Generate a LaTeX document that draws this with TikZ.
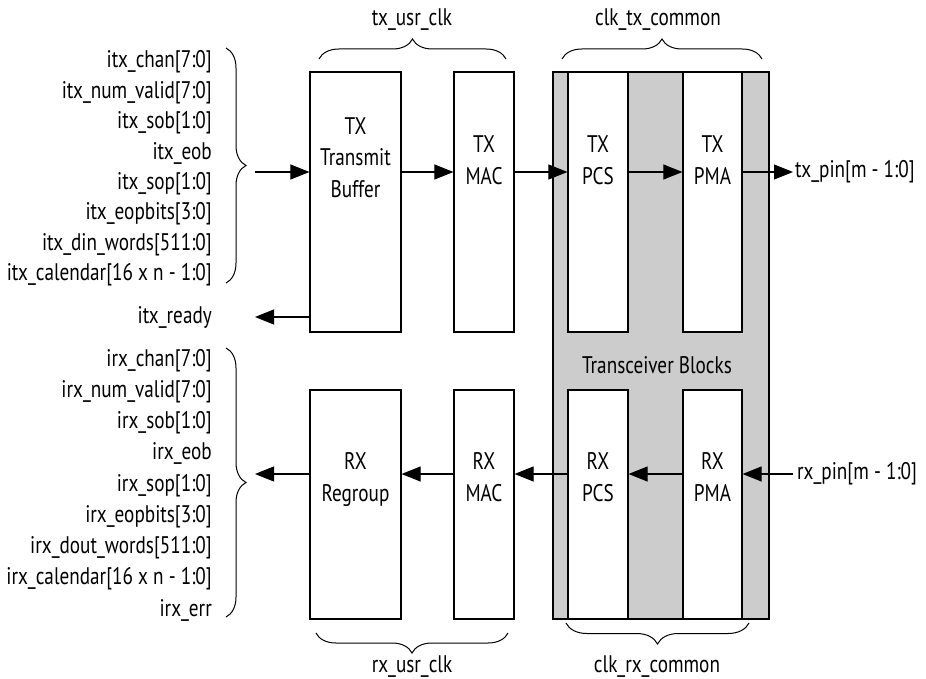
\documentclass[tikz,border=0pt]{standalone}
\usepackage{fontspec}
\setmainfont{PT Sans}[FakeStretch=0.8]
\usetikzlibrary{arrows.meta,decorations.pathreplacing}
\definecolor{tgray}{RGB}{204,204,204}
\begin{document}
\begin{tikzpicture}[x=1pt,y=-1pt,
  blk/.style={draw, fill=white, line width=1.2pt, inner sep=0pt, minimum width=#1},
  tall/.style={minimum height=260pt},
  short/.style={minimum height=229pt},
  txt/.style={inner sep=0pt, align=center, font=\fontsize{24}{31.5}\selectfont},
  lbl/.style={inner sep=0pt, font=\fontsize{24}{30}\selectfont},
  arr/.style={line width=1.1pt, -{Triangle[length=19pt,width=15pt]}},
  brc/.style={line width=1pt, decoration={brace, amplitude=#1}, decorate},
]
\useasboundingbox (0,0) rectangle (926,679);
% coordinates for rows
\coordinate (txrow) at (0,172);
\coordinate (rxrow) at (0,474);
\coordinate (readyrow) at (0,317);
% gray transceiver area
\node[draw, fill=tgray, line width=1.2pt, inner sep=0pt, minimum width=216pt, minimum height=547pt] (xcvr) at (661,345.5) {};
\node[lbl] (xcvrT) at (657,365) {Transceiver Blocks};
% TX blocks
\node[blk=91pt, tall] (buf) at (355.5,202) {};
\node[blk=60pt, tall] (txmac) at (484,202) {};
\node[blk=60pt, tall] (txpcs) at (598,202) {};
\node[blk=59pt, tall] (txpma) at (712.5,202) {};
% RX blocks
\node[blk=91pt, short] (reg) at (355.5,504.5) {};
\node[blk=60pt, short] (rxmac) at (484,504.5) {};
\node[blk=60pt, short] (rxpcs) at (598,504.5) {};
\node[blk=59pt, short] (rxpma) at (712.5,504.5) {};
% block texts
\node[txt] (bufT) at (355.5,157.5) {TX\\Transmit\\Buffer};
\node[txt] (txmacT) at (484,160) {TX\\MAC};
\node[txt] (txpcsT) at (598,160) {TX\\PCS};
\node[txt] (txpmaT) at (712.5,160) {TX\\PMA};
\node[txt] (regT) at (355.5,479.5) {RX\\Regroup};
\node[txt] (rxmacT) at (484,477) {RX\\MAC};
\node[txt] (rxpcsT) at (598,477) {RX\\PCS};
\node[txt] (rxpmaT) at (712.5,477) {RX\\PMA};
% left signal lists
\node[lbl, align=right, anchor=east, font=\fontsize{24}{30.4}\selectfont] (txsig) at (212,168.5)
 {itx\_chan[7:0]\\itx\_num\_valid[7:0]\\itx\_sob[1:0]\\itx\_eob\\itx\_sop[1:0]\\itx\_eopbits[3:0]\\itx\_din\_words[511:0]\\itx\_calendar[16 x n - 1:0]};
\node[lbl, anchor=east] (ready) at (212,317) {itx\_ready};
\node[lbl, align=right, anchor=east, font=\fontsize{24}{31.25}\selectfont] (rxsig) at (212,485)
 {irx\_chan[7:0]\\irx\_num\_valid[7:0]\\irx\_sob[1:0]\\irx\_eob\\irx\_sop[1:0]\\irx\_eopbits[3:0]\\irx\_dout\_words[511:0]\\irx\_calendar[16 x n - 1:0]\\irx\_err};
% right pins
\node[lbl, anchor=west] (txpin) at (795,172) {tx\_pin[m - 1:0]};
\node[lbl, anchor=west] (rxpin) at (797,474) {rx\_pin[m - 1:0]};
% braces
\coordinate (lbt1) at (226,48); \coordinate (lbt2) at (226,283);
\coordinate (lbr1) at (226,348); \coordinate (lbr2) at (226,617);
\draw[brc=20pt] (lbt1) -- (lbt2);
\draw[brc=20pt] (lbr1) -- (lbr2);
\coordinate (tu1) at (319,59); \coordinate (tu2) at (506,59);
\coordinate (tc1) at (562,59); \coordinate (tc2) at (762,59);
\draw[brc=20pt] (tu1) -- (tu2);
\draw[brc=20pt] (tc1) -- (tc2);
\coordinate (ru1) at (316,633); \coordinate (ru2) at (508,633);
\coordinate (rc1) at (566,623); \coordinate (rc2) at (749,623);
\draw[brc=20pt] (ru2) -- (ru1);
\draw[brc=21pt] (rc2) -- (rc1);
\node[lbl] (tuT) at (412,20) {tx\_usr\_clk};
\node[lbl] (tcT) at (658,20) {clk\_tx\_common};
\node[lbl] (ruT) at (412,667) {rx\_usr\_clk};
\node[lbl] (rcT) at (657,667) {clk\_rx\_common};
% arrows
\coordinate (itxin) at (255,172);
\coordinate (itxout) at (255,317);
\coordinate (irxout) at (255,474);
\coordinate (txpinP) at (793,172);
\coordinate (rxpinP) at (793,474);
\draw[arr] (itxin) -- (buf.west |- txrow);
\draw[arr] (buf.east |- txrow) -- (txmac.west |- txrow);
\draw[arr] (txmac.east |- txrow) -- (txpcs.west |- txrow);
\draw[arr] (txpcs.east |- txrow) -- (txpma.west |- txrow);
\draw[arr] (txpma.east |- txrow) -- (txpinP);
\draw[arr] (buf.west |- readyrow) -- (itxout);
\draw[arr] (rxpinP) -- (rxpma.east |- rxrow);
\draw[arr] (rxpma.west |- rxrow) -- (rxpcs.east |- rxrow);
\draw[arr] (rxpcs.west |- rxrow) -- (rxmac.east |- rxrow);
\draw[arr] (rxmac.west |- rxrow) -- (reg.east |- rxrow);
\draw[arr] (reg.west |- rxrow) -- (irxout);
\end{tikzpicture}
\end{document}
